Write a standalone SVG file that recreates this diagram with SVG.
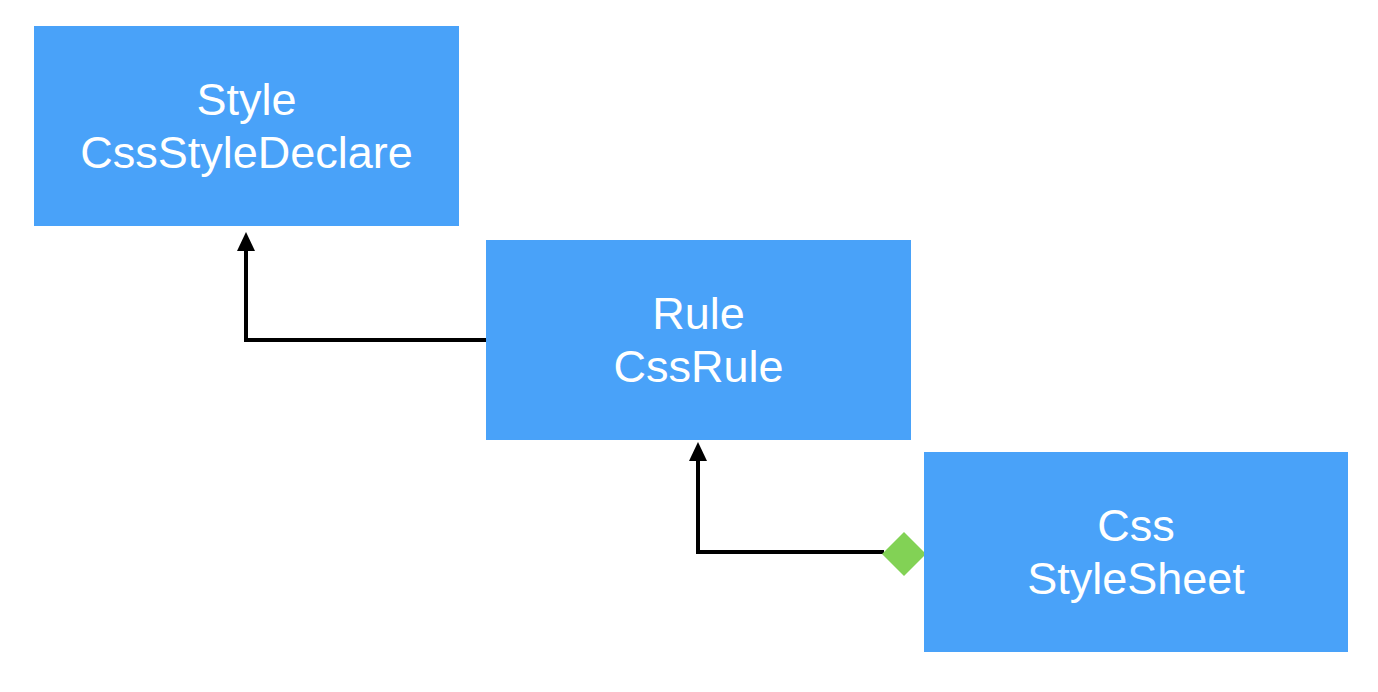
<svg xmlns="http://www.w3.org/2000/svg" width="1378" height="692" viewBox="0 0 1378 692">
<style>
.box{fill:#49a2f9}
.lbl{fill:#ffffff;font-family:"Liberation Sans",Arial,sans-serif;font-size:45px;text-anchor:middle}
.conn{fill:none;stroke:#000;stroke-width:4;stroke-linejoin:miter}
.head{fill:#000}
.dia{fill:#82d255}
</style>
<rect width="1378" height="692" fill="#ffffff"/>
<g id="connectors">
<polyline class="conn" points="486,340 246,340 246,248"/>
<polygon class="head" points="246,232 237,251 255,251"/>
<polyline class="conn" points="884,552 698,552 698,459"/>
<polygon class="head" points="698,442 689,461 707,461"/>
<polygon class="dia" points="904,532 926,554 904,576 882,554"/>
</g>
<g id="style">
<rect class="box" x="34" y="26" width="425" height="200"/>
<text class="lbl" x="246.5" y="115">Style</text>
<text class="lbl" x="246.5" y="168">CssStyleDeclare</text>
</g>
<g id="rule">
<rect class="box" x="486" y="240" width="425" height="200"/>
<text class="lbl" x="698.5" y="329">Rule</text>
<text class="lbl" x="698.5" y="382">CssRule</text>
</g>
<g id="stylesheet">
<rect class="box" x="924" y="452" width="424" height="200"/>
<text class="lbl" x="1136" y="541">Css</text>
<text class="lbl" x="1136" y="594">StyleSheet</text>
</g>
</svg>
